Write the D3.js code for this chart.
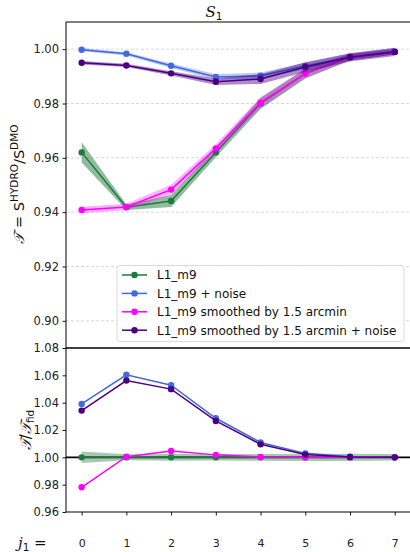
<!DOCTYPE html>
<html>
<head>
<meta charset="utf-8">
<script src="https://cdn.jsdelivr.net/npm/d3@7"></script>
<style>
  html, body { margin: 0; padding: 0; background: #fff; }
  svg { display: block; font-family: "DejaVu Sans", sans-serif; }
</style>
</head>
<body>
<svg id="chart" width="410" height="552"></svg>
<script>
// scale index j1
const j1 = [0, 1, 2, 3, 4, 5, 6, 7];

// T = S^HYDRO / S^DMO for each map variant
const tL1 = [0.962, 0.9418, 0.9441, 0.962, 0.9800, 0.9910, 0.9970, 0.9990];
const tL1Noise = [0.9998, 0.9983, 0.9939, 0.9898, 0.9902, 0.9938, 0.9972, 0.9992];
const tSmooth = [0.9408, 0.9419, 0.9483, 0.9635, 0.9803, 0.9911, 0.9971, 0.9990];
const tSmoothNoise = [0.9950, 0.9940, 0.9911, 0.9880, 0.9890, 0.9934, 0.9970, 0.9990];

// 1-sigma half-widths of the shaded bands
const eL1 = [0.0037, 0.0010, 0.0022, 0.0018, 0.0020, 0.0018, 0.0012, 0.0010];
const eL1Noise = [0.0006, 0.0006, 0.0008, 0.0010, 0.0012, 0.0012, 0.0012, 0.0012];
const eSmooth = [0.0012, 0.0012, 0.0018, 0.0015, 0.0020, 0.0018, 0.0012, 0.0010];
const eSmoothNoise = [0.0006, 0.0006, 0.0008, 0.0012, 0.0018, 0.0018, 0.0015, 0.0015];

// ratios T / T_fid
const rL1 = [1.0, 1.0, 1.0, 1.0, 1.0, 1.0, 1.0, 1.0];
const rL1Noise = [1.0391, 1.0604, 1.0528, 1.0286, 1.0109, 1.0029, 1.0005, 1.0000];
const rSmooth = [0.9781, 1.0005, 1.0046, 1.0018, 1.0003, 1.0000, 1.0000, 1.0000];
const rSmoothNoise = [1.0342, 1.0562, 1.0499, 1.0266, 1.0095, 1.0020, 1.0003, 1.0000];
const erL1 = [0.0042, 0.0022, 0.0025, 0.0024, 0.0025, 0.0027, 0.0026, 0.0024];

const seriesNames = ["L1_m9", "L1_m9 + noise", "L1_m9 smoothed by 1.5 arcmin",
                     "L1_m9 smoothed by 1.5 arcmin + noise"];
const seriesColors = ["#1d7a3c", "#4169e1", "#ff00ff", "#4b0082"];

const topTicks = [0.90, 0.92, 0.94, 0.96, 0.98, 1.00];
const botTicks = [0.96, 0.98, 1.00, 1.02, 1.04, 1.06, 1.08];

const svg = d3.select("#chart");

const left = 66, right = 410.4;
const x = d3.scaleLinear().domain([-0.35, 7.35]).range([left, right]);
const yTop = d3.scaleLinear().domain([0.89, 1.01]).range([348, 22]);
const yBot = d3.scaleLinear().domain([0.96, 1.08]).range([512, 348]);

const topSeries = [
  { v: tL1, e: eL1, c: seriesColors[0], a: 0.5 },
  { v: tL1Noise, e: eL1Noise, c: seriesColors[1], a: 0.35 },
  { v: tSmooth, e: eSmooth, c: seriesColors[2], a: 0.3 },
  { v: tSmoothNoise, e: eSmoothNoise, c: seriesColors[3], a: 0.45 }
];

// grid in upper panel
svg.append("g").selectAll("line").data(topTicks).join("line")
  .attr("x1", left).attr("x2", right)
  .attr("y1", d => yTop(d)).attr("y2", d => yTop(d))
  .attr("stroke", "#cfcfcf").attr("stroke-width", 0.8)
  .attr("stroke-dasharray", "3,2");

function drawSeries(g, y, s) {
  const pts = j1.map((j, i) => ({ j, v: s.v[i], e: s.e ? s.e[i] : 0 }));
  if (s.e) {
    g.append("path").datum(pts)
      .attr("d", d3.area().x(d => x(d.j)).y0(d => y(d.v - d.e)).y1(d => y(d.v + d.e)))
      .attr("fill", s.c).attr("fill-opacity", s.a).attr("stroke", "none");
  }
  g.append("path").datum(pts)
    .attr("d", d3.line().x(d => x(d.j)).y(d => y(d.v)))
    .attr("fill", "none").attr("stroke", s.c).attr("stroke-width", 1.5);
  g.append("g").selectAll("circle").data(pts).join("circle")
    .attr("cx", d => x(d.j)).attr("cy", d => y(d.v)).attr("r", 3.2)
    .attr("fill", s.c);
}

const gTop = svg.append("g");
topSeries.forEach(s => drawSeries(gTop, yTop, s));

// lower panel: ratio to the fiducial
const gBot = svg.append("g");
const bandPts = j1.map((j, i) => ({ j, v: rL1[i], e: erL1[i] }));
gBot.append("path").datum(bandPts)
  .attr("d", d3.area().x(d => x(d.j)).y0(d => yBot(d.v - d.e)).y1(d => yBot(d.v + d.e)))
  .attr("fill", seriesColors[0]).attr("fill-opacity", 0.4);
gBot.append("line")
  .attr("x1", left).attr("x2", right)
  .attr("y1", yBot(1.0)).attr("y2", yBot(1.0))
  .attr("stroke", "#000").attr("stroke-width", 1.6);
[
  { v: rL1, c: seriesColors[0] },
  { v: rL1Noise, c: seriesColors[1] },
  { v: rSmooth, c: seriesColors[2] },
  { v: rSmoothNoise, c: seriesColors[3] }
].forEach(s => drawSeries(gBot, yBot, s));

// spines
const sp = svg.append("g").attr("stroke", "#000").attr("fill", "none");
sp.append("line").attr("x1", left).attr("x2", left).attr("y1", 22).attr("y2", 512).attr("stroke-width", 1);
sp.append("line").attr("x1", left).attr("x2", 410).attr("y1", 22).attr("y2", 22).attr("stroke-width", 1);
sp.append("line").attr("x1", left).attr("x2", 410).attr("y1", 348).attr("y2", 348).attr("stroke-width", 1.6);
sp.append("line").attr("x1", left).attr("x2", 410).attr("y1", 512).attr("y2", 512).attr("stroke-width", 1);

// axes
function styleAxis(g) {
  g.select(".domain").remove();
  g.selectAll(".tick line").attr("stroke", "#000").attr("stroke-width", 0.9);
  g.selectAll(".tick text").attr("fill", "#222").attr("font-size", 11.5)
    .attr("font-family", "DejaVu Sans, sans-serif");
}
svg.append("g").attr("transform", `translate(${left},0)`)
  .call(d3.axisLeft(yTop).tickValues(topTicks).tickFormat(d3.format(".2f")).tickSize(3.5).tickPadding(3.5))
  .call(styleAxis);
svg.append("g").attr("transform", `translate(${left},0)`)
  .call(d3.axisLeft(yBot).tickValues(botTicks).tickFormat(d3.format(".2f")).tickSize(3.5).tickPadding(3.5))
  .call(styleAxis);
const xa = svg.append("g").attr("transform", "translate(0,512)")
  .call(d3.axisBottom(x).tickValues(j1).tickFormat(d3.format("d")).tickSize(3.5).tickPadding(24))
  .call(styleAxis);
xa.selectAll(".tick text").attr("font-size", 11);

// x label placed in line with the tick labels
svg.append("text").attr("x", 18).attr("y", 548)
  .attr("font-size", 15).attr("fill", "#111")
  .call(t => {
    t.append("tspan").attr("font-style", "italic").attr("font-family", "DejaVu Serif, serif").text("j");
    t.append("tspan").attr("font-size", 10.5).attr("dy", 3).text("1");
    t.append("tspan").attr("dy", -3).text(" =");
  });

// title
svg.append("text").attr("x", 214).attr("y", 17).attr("text-anchor", "middle")
  .attr("font-size", 15).attr("fill", "#111")
  .call(t => {
    t.append("tspan").attr("font-style", "italic").attr("font-family", "DejaVu Serif, serif").text("S");
    t.append("tspan").attr("font-size", 10.5).attr("dy", 3).text("1");
  });

// y labels
svg.append("text").attr("transform", "translate(24,184) rotate(-90)")
  .attr("text-anchor", "middle").attr("font-size", 14.5).attr("fill", "#111")
  .call(t => {
    t.append("tspan").attr("font-style", "italic").attr("font-family", "DejaVu Serif, serif").text("\u{1D4AF}");
    t.append("tspan").text(" = S");
    t.append("tspan").attr("font-size", 10.5).attr("dy", -6).text("HYDRO");
    t.append("tspan").attr("dy", 6).text("/S");
    t.append("tspan").attr("font-size", 10.5).attr("dy", -6).text("DMO");
  });
svg.append("text").attr("transform", "translate(31,430) rotate(-90)")
  .attr("text-anchor", "middle").attr("font-size", 15).attr("fill", "#111")
  .call(t => {
    t.append("tspan").attr("font-style", "italic").attr("font-family", "DejaVu Serif, serif").text("\u{1D4AF}");
    t.append("tspan").text("/");
    t.append("tspan").attr("font-style", "italic").attr("font-family", "DejaVu Serif, serif").text("\u{1D4AF}");
    t.append("tspan").attr("font-size", 10.5).attr("dy", 3).text("fid");
  });

// legend
const lg = svg.append("g");
lg.append("rect").attr("x", 117).attr("y", 265.5).attr("width", 287).attr("height", 76)
  .attr("rx", 3).attr("fill", "#fff").attr("fill-opacity", 0.85)
  .attr("stroke", "#d6d6d6").attr("stroke-width", 0.9);
seriesNames.forEach((name, i) => {
  const yy = 275 + i * 18.4;
  lg.append("line").attr("x1", 122).attr("x2", 147).attr("y1", yy).attr("y2", yy)
    .attr("stroke", seriesColors[i]).attr("stroke-width", 1.5);
  lg.append("circle").attr("cx", 134.5).attr("cy", yy).attr("r", 3.2).attr("fill", seriesColors[i]);
  lg.append("text").attr("x", 157).attr("y", yy).attr("dy", "0.36em")
    .attr("font-size", 12).attr("fill", "#111").text(name);
});
</script>
</body>
</html>
